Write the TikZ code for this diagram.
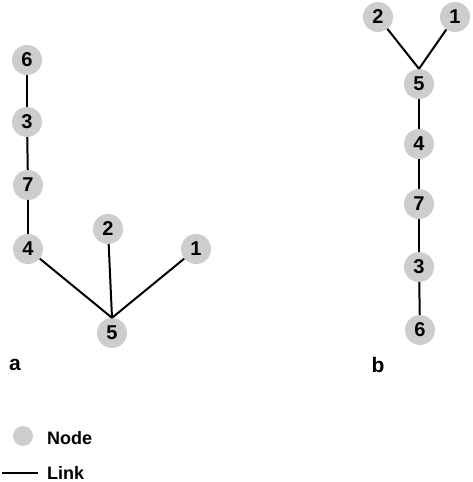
\documentclass[tikz,border=0pt]{standalone}
\usepackage{fontspec}
\setmainfont{Liberation Sans}
\definecolor{nodegray}{RGB}{205,205,205}
\begin{document}
\begin{tikzpicture}[x=1pt,y=-1pt,
  vert/.style={circle,fill=nodegray,minimum size=30pt,inner sep=0pt,font=\fontsize{20}{20}\selectfont\bfseries},
  link/.style={line width=2pt,black},
  lbl/.style={font=\fontsize{21}{21}\selectfont\bfseries,inner sep=0pt},
  leg/.style={font=\fontsize{18}{18}\selectfont\bfseries,inner sep=0pt,anchor=west}]
\useasboundingbox (0,0) rectangle (472,482);
% tree a
\node[vert] (a6) at (27,60) {6};
\node[vert] (a3) at (27,122) {3};
\node[vert] (a7) at (28,185) {7};
\node[vert] (a4) at (28,249) {4};
\node[vert] (a2) at (108,229) {2};
\node[vert] (a1) at (196,249) {1};
\node[vert] (a5) at (112,333) {5};
\draw[link] (a6) -- (a3);
\draw[link] (a3) -- (a7);
\draw[link] (a7) -- (a4);
\draw[link] (a4) -- (a5.north);
\draw[link] (a2) -- (a5.north);
\draw[link] (a1) -- (a5.north);
\node[lbl] (la) at (15,365) {a};
% tree b
\node[vert] (b2) at (378,17) {2};
\node[vert] (b1) at (455,17) {1};
\node[vert] (b5) at (419,84) {5};
\node[vert] (b4) at (419,144) {4};
\node[vert] (b7) at (419,204) {7};
\node[vert] (b3) at (419,267) {3};
\node[vert] (b6) at (420,330) {6};
\draw[link] (b2) -- (b5.north);
\draw[link] (b1) -- (b5.north);
\draw[link] (b5) -- (b4);
\draw[link] (b4) -- (b7);
\draw[link] (b7) -- (b3);
\draw[link] (b3) -- (b6);
\node[lbl] (lb) at (378,365) {b};
% legend
\node[circle,fill=nodegray,minimum size=20pt,inner sep=0pt] (legnode) at (23,436) {};
\node[leg] (legnodetxt) at (47,438) {Node};
\coordinate (l1) at (2,473);
\coordinate (l2) at (38,473);
\draw[link] (l1) -- (l2);
\node[leg] (leglinktxt) at (47,473) {Link};
\end{tikzpicture}
\end{document}
